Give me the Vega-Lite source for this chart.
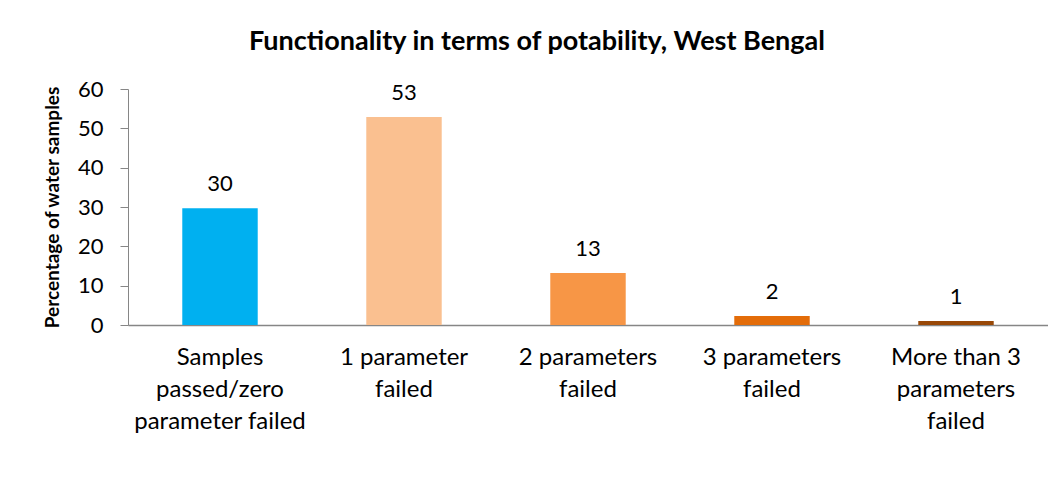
{
  "$schema": "https://vega.github.io/schema/vega-lite/v6.json",
  "autosize": {"type": "none"},
  "padding": {"left": 128, "top": 89, "right": 0, "bottom": 173},
  "width": 920,
  "height": 236,
  "background": "white",
  "title": {
    "text": "Functionality in terms of potability, West Bengal",
    "font": "Lato",
    "fontSize": 27,
    "fontWeight": "bold",
    "color": "#000000",
    "anchor": "middle",
    "dx": -51,
    "offset": 22
  },
  "data": {
    "values": [
      {"category": "Samples|passed/zero|parameter failed", "value": 29.7, "label": "30", "color": "#00B0F0"},
      {"category": "1 parameter|failed", "value": 52.9, "label": "53", "color": "#FAC090"},
      {"category": "2 parameters|failed", "value": 13.2, "label": "13", "color": "#F79646"},
      {"category": "3 parameters|failed", "value": 2.3, "label": "2", "color": "#E36C09"},
      {"category": "More than 3|parameters|failed", "value": 1.0, "label": "1", "color": "#984807"}
    ]
  },
  "encoding": {
    "x": {
      "field": "category",
      "type": "nominal",
      "sort": null,
      "scale": {"paddingInner": 0.59, "paddingOuter": 0.295},
      "axis": {
        "title": null,
        "labelAngle": 0,
        "labelExpr": "split(datum.label, '|')",
        "labelFont": "Lato",
        "labelFontSize": 24,
        "labelColor": "#000000",
        "labelLineHeight": 32,
        "labelPadding": 20,
        "ticks": false,
        "domainColor": "#868686",
        "domainWidth": 1.5,
        "labelLimit": 300
      }
    },
    "y": {
      "field": "value",
      "type": "quantitative",
      "scale": {"domain": [0, 60], "nice": false},
      "axis": {
        "title": "Percentage of water samples",
        "titleFont": "Lato",
        "titleFontSize": 19,
        "titleFontWeight": "bold",
        "titleColor": "#000000",
        "titlePadding": 15,
        "values": [0, 10, 20, 30, 40, 50, 60],
        "labelFont": "Lato",
        "labelFontSize": 22,
        "labelColor": "#000000",
        "labelPadding": 17,
        "tickSize": 8,
        "tickColor": "#868686",
        "domainColor": "#868686",
        "grid": false
      }
    }
  },
  "layer": [
    {
      "mark": {"type": "bar"},
      "encoding": {
        "color": {"field": "color", "type": "nominal", "scale": null}
      }
    },
    {
      "mark": {"type": "text", "font": "Lato", "fontSize": 22, "color": "#000000", "baseline": "alphabetic", "dy": -17},
      "encoding": {
        "text": {"field": "label"}
      }
    }
  ],
  "config": {"view": {"stroke": null}}
}
